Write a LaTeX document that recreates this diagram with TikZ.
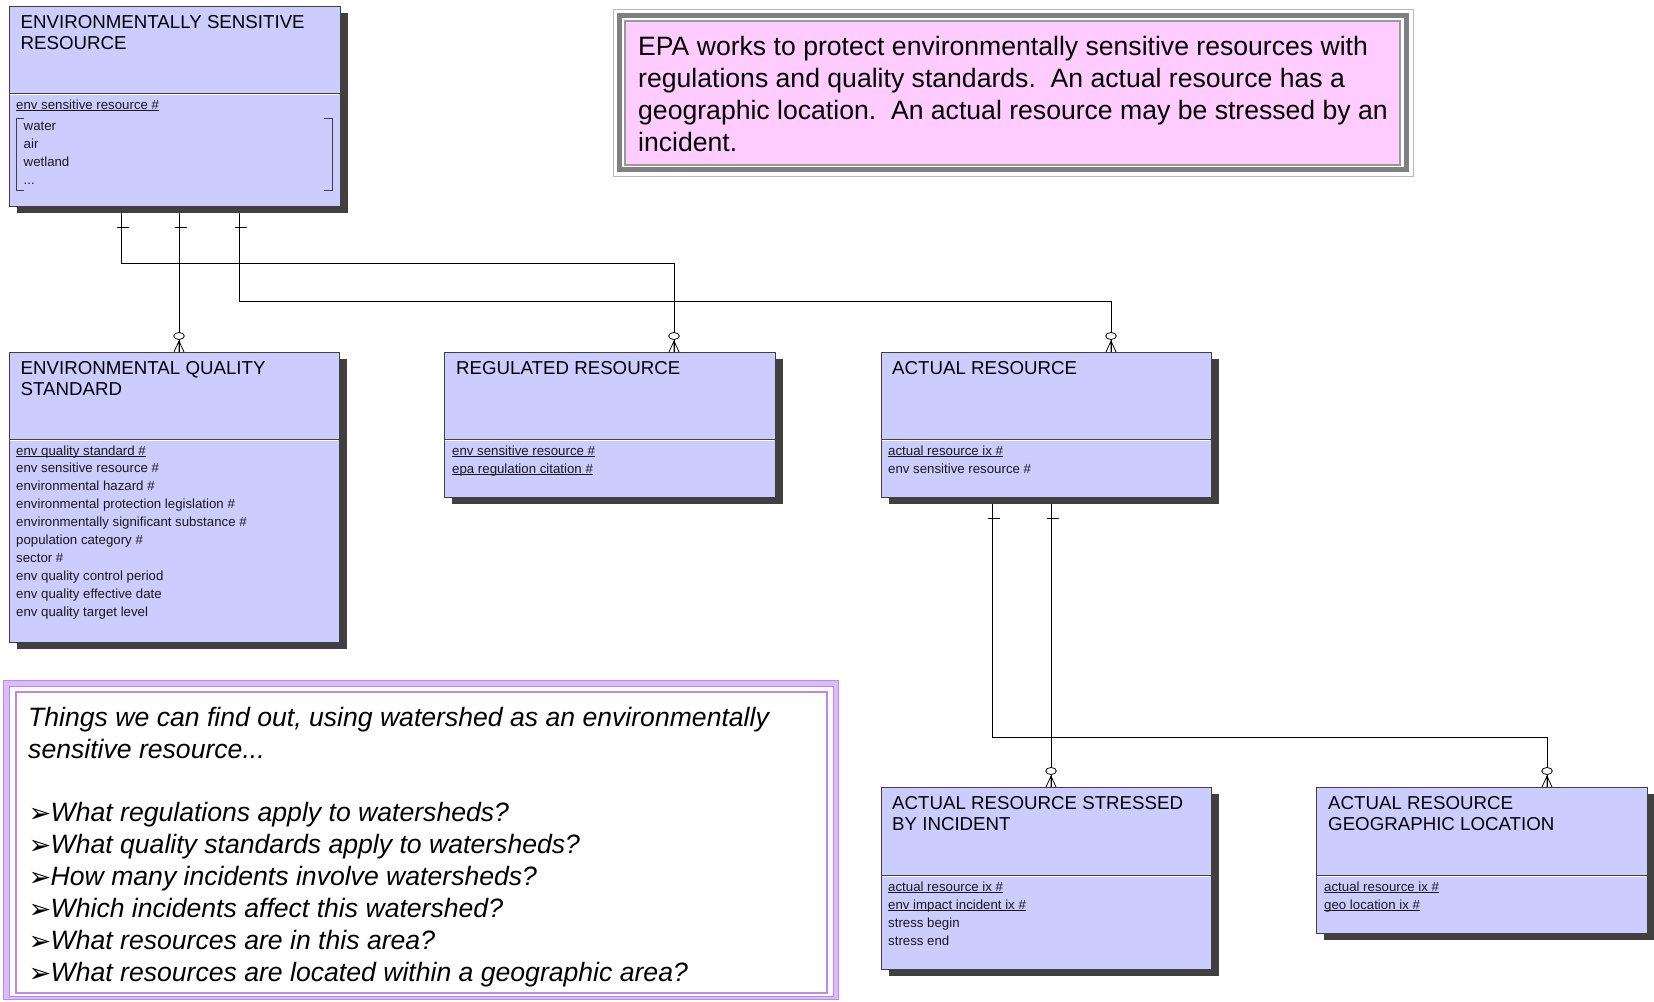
\documentclass[tikz,border=0pt]{standalone}
\usepackage{fontspec}
\setmainfont{Liberation Sans}
\newfontfamily\symfont{DejaVu Sans}
\usetikzlibrary{shadows,calc}
\definecolor{lav}{HTML}{CCCCFF}
\definecolor{pinkbg}{HTML}{FFCCFF}
\definecolor{shad}{HTML}{404040}
\definecolor{purpD}{HTML}{BB88EE}
\definecolor{purpL}{HTML}{DDBBFF}
\definecolor{midgray}{HTML}{808080}
\newcommand\ulx[1]{\leavevmode\setbox0=\hbox{#1}\rlap{\vrule height -1.3pt depth 2.3pt width \wd0}\box0}
\newcommand\ercrow[1]{%
  \draw[rel] ([xshift=-5pt]#1) -- ([yshift=11pt]#1) -- ([xshift=5pt]#1) ([yshift=11pt]#1) -- (#1);
  \draw[rel,fill=white] ([yshift=16pt]#1) ellipse [x radius=5.3pt, y radius=3.5pt];}
\newcommand\ertick[1]{%
  \draw[rel] ([xshift=-4pt,yshift=-21pt]#1) -- ([xshift=8pt,yshift=-21pt]#1);}
\newcommand\entity[6]{%
  \node[ent, minimum width=#4pt, minimum height=#5pt] (#1) at (#2,#3) {};
  \draw[divl] ([yshift=-#6pt]#1.north west) -- ([yshift=-#6pt]#1.north east);
  \draw[divw] ([xshift=0.6pt,yshift=-#6pt-1.5pt]#1.north west) -- ([xshift=-0.6pt,yshift=-#6pt-1.5pt]#1.north east);}
\tikzset{
  ent/.style={draw=black!75, fill=lav, line width=0.8pt, anchor=north west, inner sep=0pt, outer sep=0pt,
    drop shadow={shadow xshift=8pt, shadow yshift=-7pt, fill=shad, opacity=1}},
  divl/.style={draw=black!75, line width=0.8pt},
  divw/.style={draw=white, line width=1pt},
  rel/.style={draw=black, line width=0.8pt},
  ttl/.style={anchor=base west, inner sep=0pt, text=black, font=\fontsize{18.7}{21.5}\selectfont},
  att/.style={anchor=base west, inner sep=0pt, text=black!90, font=\fontsize{13.25}{17.9}\selectfont},
  notetxt/.style={anchor=base west, inner sep=0pt, font=\fontsize{26.6}{32}\selectfont},
  qtxt/.style={anchor=base west, inner sep=0pt, font=\fontsize{26.6}{32}\selectfont\itshape},
  brk/.style={draw=black!75, line width=0.8pt},
}
\newcommand\qarrow{\makebox[22pt][l]{\raisebox{-1pt}{\symfont\fontsize{27}{27}\selectfont ➢}}}
\begin{document}
\begin{tikzpicture}[x=1pt,y=-1pt]
\useasboundingbox (0,0) rectangle (1654,1001);
\fill[white] (0,0) rectangle (1654,1001);

% ---------- connectors (behind boxes) ----------
\coordinate (esrA) at (179,206);
\coordinate (esrB) at (121,206);
\coordinate (esrC) at (239,206);
\coordinate (arA) at (1051,497);
\coordinate (arB) at (992,497);
\coordinate (eqsP) at (179,352);
\coordinate (rrP) at (674,352);
\coordinate (arP) at (1111,352);
\coordinate (arsbiP) at (1051,787);
\coordinate (arglP) at (1547,787);

\draw[rel] (esrA) -- (eqsP);
\draw[rel] (esrB) |- ($(rrP)+(0,-89)$) -- (rrP);
\draw[rel] (esrC) |- ($(arP)+(0,-51)$) -- (arP);
\draw[rel] (arA) -- (arsbiP);
\draw[rel] (arB) |- ($(arglP)+(0,-50)$) -- (arglP);

% ---------- entities ----------
\entity{esr}{9}{6}{331}{200}{87}
\entity{eqs}{9}{352}{330}{290}{87}
\entity{rr}{444}{352}{331}{145}{87}
\entity{ar}{881}{352}{330}{145}{87}
\entity{arsbi}{881}{787}{330}{182}{88}
\entity{argl}{1316}{787}{331}{146}{88}

% relationship ends
\ertick{esrA} \ertick{esrB} \ertick{esrC}
\ertick{arA} \ertick{arB}
\ercrow{eqsP} \ercrow{rrP} \ercrow{arP} \ercrow{arsbiP} \ercrow{arglP}

% ESR
\node[ttl] (esrT1) at (20.5,28) {ENVIRONMENTALLY SENSITIVE};
\node[ttl] (esrT2) at (20.5,49.5) {RESOURCE};
\node[att] (esrA1) at (16,109) {\ulx{env sensitive resource \#}};
\node[att] (esrV1) at (23.5,130) {water};
\node[att] (esrV2) at (23.5,148) {air};
\node[att] (esrV3) at (23.5,166) {wetland};
\node[att] (esrV4) at (23.5,184) {...};
\draw[brk] (24,118) -- (16,118) -- (16,190) -- (24,190);
\draw[brk] (324,118) -- (332,118) -- (332,190) -- (324,190);

% EQS
\node[ttl] (eqsT1) at (20.5,374) {ENVIRONMENTAL QUALITY};
\node[ttl] (eqsT2) at (20.5,395.5) {STANDARD};
\node[att] (eqsA1) at (16,455) {\ulx{env quality standard \#}};
\node[att] (eqsA2) at (16,472.9) {env sensitive resource \#};
\node[att] (eqsA3) at (16,490.8) {environmental hazard \#};
\node[att] (eqsA4) at (16,508.7) {environmental protection legislation \#};
\node[att] (eqsA5) at (16,526.6) {environmentally significant substance \#};
\node[att] (eqsA6) at (16,544.5) {population category \#};
\node[att] (eqsA7) at (16,562.4) {sector \#};
\node[att] (eqsA8) at (16,580.3) {env quality control period};
\node[att] (eqsA9) at (16,598.2) {env quality effective date};
\node[att] (eqsA10) at (16,616.1) {env quality target level};

% RR
\node[ttl] (rrT1) at (456,374) {REGULATED RESOURCE};
\node[att] (rrA1) at (452,455) {\ulx{env sensitive resource \#}};
\node[att] (rrA2) at (452,473) {\ulx{epa regulation citation \#}};

% AR
\node[ttl] (arT1) at (892,374) {ACTUAL RESOURCE};
\node[att] (arA1) at (888,455) {\ulx{actual resource ix \#}};
\node[att] (arA2) at (888,473) {env sensitive resource \#};

% ARSBI
\node[ttl] (arsbiT1) at (892,809) {ACTUAL RESOURCE STRESSED};
\node[ttl] (arsbiT2) at (892,830.5) {BY INCIDENT};
\node[att] (arsbiA1) at (888,891) {\ulx{actual resource ix \#}};
\node[att] (arsbiA2) at (888,909) {\ulx{env impact incident ix \#}};
\node[att] (arsbiA3) at (888,927) {stress begin};
\node[att] (arsbiA4) at (888,945) {stress end};

% ARGL
\node[ttl] (arglT1) at (1328,809) {ACTUAL RESOURCE};
\node[ttl] (arglT2) at (1328,830.5) {GEOGRAPHIC LOCATION};
\node[att] (arglA1) at (1324,891) {\ulx{actual resource ix \#}};
\node[att] (arglA2) at (1324,909) {\ulx{geo location ix \#}};

% ---------- note box ----------
\draw[draw=gray!55, line width=1pt] (613,9) rectangle (1413,176);
\draw[draw=midgray, line width=5pt] (619.5,15.5) rectangle (1406.5,169.5);
\node[draw=gray!80, fill=pinkbg, line width=1.2pt, anchor=north west, minimum width=775pt, minimum height=144pt, inner sep=0pt, outer sep=0pt] (note) at (625,21) {};
\node[notetxt] (noteL1) at (638,55) {EPA works to protect environmentally sensitive resources with};
\node[notetxt] (noteL2) at (638,87) {regulations and quality standards.\ \ An actual resource has a};
\node[notetxt] (noteL3) at (638,119) {geographic location.\ \ An actual resource may be stressed by an};
\node[notetxt] (noteL4) at (638,151) {incident.};

% ---------- questions box ----------
\fill[purpL] (3,680) rectangle (839,1000);
\fill[white] (9,686) rectangle (833,996);
\draw[purpD, line width=0.8pt] (3.4,680.4) rectangle (838.6,999.6);
\draw[purpD, line width=0.8pt] (9,686) rectangle (833,996);
\node[draw=purpD, line width=1.8pt, anchor=north west, minimum width=811pt, minimum height=301pt, inner sep=0pt, outer sep=0pt] (qbox) at (16,692) {};
\node[qtxt] (q0a) at (28,726) {Things we can find out, using watershed as an environmentally};
\node[qtxt] (q0b) at (28,758) {sensitive resource...};
\node[qtxt] (q1) at (28.5,821.5) {\qarrow What regulations apply to watersheds?};
\node[qtxt] (q2) at (28.5,853.4) {\qarrow What quality standards apply to watersheds?};
\node[qtxt] (q3) at (28.5,885.3) {\qarrow How many incidents involve watersheds?};
\node[qtxt] (q4) at (28.5,917.2) {\qarrow Which incidents affect this watershed?};
\node[qtxt] (q5) at (28.5,949.1) {\qarrow What resources are in this area?};
\node[qtxt] (q6) at (28.5,981) {\qarrow What resources are located within a geographic area?};
\end{tikzpicture}
\end{document}
